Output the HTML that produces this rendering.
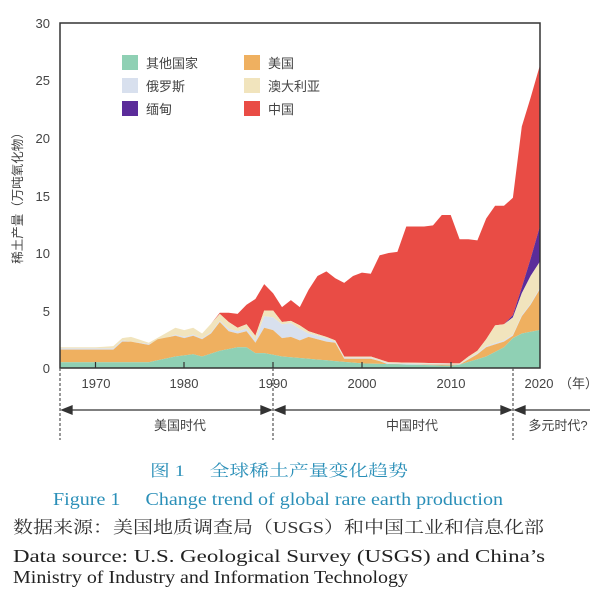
<!DOCTYPE html>
<html><head><meta charset="utf-8"><style>html,body{margin:0;padding:0;background:#fff;}svg{display:block}</style></head>
<body>
<svg id="s" width="600" height="603" viewBox="0 0 600 603" xmlns="http://www.w3.org/2000/svg">
<g id="areas"></g>
<rect x="60" y="23" width="480" height="345" fill="none" stroke="#333" stroke-width="1.5"/>
<g font-family="Liberation Sans, sans-serif" font-size="13" fill="#444" text-anchor="end">
<text x="50" y="373">0</text><text x="50" y="316">5</text><text x="50" y="258">10</text>
<text x="50" y="201">15</text><text x="50" y="143">20</text><text x="50" y="85">25</text><text x="50" y="28">30</text>
</g>
<g stroke="#333" stroke-width="1.2">
<line x1="95.5" y1="368" x2="95.5" y2="362"/><line x1="184" y1="368" x2="184" y2="362"/><line x1="273" y1="368" x2="273" y2="362"/><line x1="362" y1="368" x2="362" y2="362"/><line x1="451" y1="368" x2="451" y2="362"/>
</g>
<g font-family="Liberation Sans, sans-serif" font-size="13" fill="#444" text-anchor="middle">
<text x="96" y="388">1970</text><text x="184" y="388">1980</text><text x="273" y="388">1990</text><text x="362" y="388">2000</text><text x="451" y="388">2010</text><text x="539" y="388">2020</text>
</g>
<text x="559" y="388" font-family="Liberation Sans, 'Noto Sans CJK SC', sans-serif" font-size="13" fill="#444">（年）</text>
<text transform="translate(22,195) rotate(-90)" text-anchor="middle" font-family="Liberation Sans, 'Noto Sans CJK SC', sans-serif" font-size="12.5" fill="#444">稀土产量（万吨氧化物）</text>
<g stroke="#555" stroke-width="1.2" stroke-dasharray="3,2">
<line x1="60" y1="368" x2="60" y2="440"/><line x1="273" y1="368" x2="273" y2="440"/><line x1="513" y1="368" x2="513" y2="440"/>
</g>
<g stroke="#333" stroke-width="1.3" fill="#333">
<line x1="66" y1="410" x2="267" y2="410"/><polygon points="62,410 72,406 72,414"/><polygon points="271,410 261,406 261,414"/>
<line x1="279" y1="410" x2="507" y2="410"/><polygon points="275,410 285,406 285,414"/><polygon points="511,410 501,406 501,414"/>
<line x1="519" y1="410" x2="590" y2="410"/><polygon points="515,410 525,406 525,414"/>
</g>
<g font-family="Liberation Sans, 'Noto Sans CJK SC', sans-serif" font-size="13" fill="#444" text-anchor="middle">
<text x="180" y="430">美国时代</text><text x="412" y="430">中国时代</text><text x="558" y="430">多元时代?</text>
</g>
<g font-family="Liberation Sans, 'Noto Sans CJK SC', sans-serif" font-size="13" fill="#444">
<rect x="122" y="55" width="16" height="15" fill="#8fd0b4"/><text x="146" y="68">其他国家</text>
<rect x="122" y="78" width="16" height="15" fill="#d8e0ee"/><text x="146" y="91">俄罗斯</text>
<rect x="122" y="101" width="16" height="15" fill="#5b2c9a"/><text x="146" y="114">缅甸</text>
<rect x="244" y="55" width="16" height="15" fill="#efb060"/><text x="268" y="68">美国</text>
<rect x="244" y="78" width="16" height="15" fill="#f1e4bd"/><text x="268" y="91">澳大利亚</text>
<rect x="244" y="101" width="16" height="15" fill="#e94c45"/><text x="268" y="114">中国</text>
</g>
<g font-family="Liberation Serif, 'Noto Serif CJK SC', serif">
<text x="150" y="476" font-size="16" fill="#2a8fb8" textLength="258" lengthAdjust="spacingAndGlyphs">图 1　 全球稀土产量变化趋势</text>
<text x="53" y="505" font-size="18" fill="#2a8fb8" textLength="450" lengthAdjust="spacingAndGlyphs">Figure 1　 Change trend of global rare earth production</text>
<text x="13" y="533" font-size="17" fill="#333" textLength="531" lengthAdjust="spacingAndGlyphs">数据来源：美国地质调查局（USGS）和中国工业和信息化部</text>
<text x="13" y="562" font-size="18" fill="#222" textLength="532" lengthAdjust="spacingAndGlyphs">Data source: U.S. Geological Survey (USGS) and China’s</text>
<text x="13" y="583" font-size="18" fill="#222" textLength="395" lengthAdjust="spacingAndGlyphs">Ministry of Industry and Information Technology</text>
</g>
</svg>
<script>
(function(){
var yrs=[];for(var y=1966;y<=2020;y++)yrs.push(y);
function interp(pts){var o=[];for(var i=0;i<yrs.length;i++){var y=yrs[i];for(var j=0;j<pts.length-1;j++){if(y>=pts[j][0]&&y<=pts[j+1][0]){var t=(y-pts[j][0])/((pts[j+1][0]-pts[j][0])||1);o.push(pts[j][1]+t*(pts[j+1][1]-pts[j][1]));break;}}}return o;}
var teal=interp([[1966,0.5],[1976,0.5],[1979,1.0],[1981,1.2],[1982,1.0],[1984,1.5],[1986,1.8],[1987,1.8],[1988,1.3],[1989,1.3],[1991,1.0],[1994,0.8],[1997,0.6],[2000,0.4],[2005,0.3],[2010,0.2],[2011,0.3],[2014,1.0],[2016,1.8],[2017,2.6],[2018,3.0],[2020,3.3]]);
var usa=interp([[1966,1.6],[1972,1.6],[1973,2.3],[1974,2.3],[1976,2.0],[1977,2.5],[1979,2.8],[1980,2.6],[1981,2.8],[1982,2.5],[1983,3.0],[1984,4.0],[1985,3.2],[1986,3.0],[1987,3.2],[1988,2.2],[1989,3.5],[1990,3.3],[1991,2.6],[1992,2.7],[1993,2.4],[1994,2.7],[1995,2.5],[1996,2.3],[1997,2.2],[1998,0.8],[2001,0.8],[2002,0.6],[2003,0.3],[2011,0.3],[2013,1.2],[2014,1.8],[2016,2.3],[2017,2.8],[2018,4.5],[2019,5.5],[2020,6.8]]);
var rus=interp([[1966,1.7],[1972,1.7],[1973,2.4],[1976,2.1],[1979,2.9],[1980,2.7],[1981,2.9],[1982,2.6],[1983,3.1],[1984,4.1],[1985,3.4],[1986,3.2],[1987,3.4],[1988,2.4],[1989,4.5],[1990,4.4],[1991,3.8],[1992,3.9],[1993,3.4],[1994,3.0],[1996,2.6],[1997,2.3],[1998,0.9],[2001,0.9],[2003,0.4],[2011,0.35],[2013,1.3],[2014,1.9],[2016,2.4],[2017,2.9],[2018,4.6],[2019,5.6],[2020,6.9]]);
var aus=interp([[1966,1.8],[1970,1.8],[1972,1.9],[1973,2.6],[1974,2.7],[1976,2.2],[1979,3.5],[1980,3.3],[1981,3.5],[1982,3.0],[1984,4.7],[1985,4.0],[1986,3.5],[1987,3.8],[1988,2.8],[1989,5.0],[1990,5.0],[1991,4.0],[1992,4.1],[1993,3.7],[1994,3.2],[1996,2.7],[1997,2.4],[1998,1.0],[2001,1.0],[2003,0.5],[2010,0.4],[2011,0.4],[2012,1.0],[2013,1.5],[2014,2.5],[2015,3.7],[2016,3.8],[2017,4.4],[2018,6.5],[2019,8.0],[2020,9.2]]);
var mya=interp([[1966,0],[2016,0],[2017,0.2],[2018,0.5],[2019,1.5],[2020,3.0]]).map(function(v,i){return v+aus[i];});
var chn=interp([[1966,0],[1983,0],[1984,0.1],[2020,0.1]]);
var ctop={1984:4.8,1985:4.8,1986:4.7,1987:5.5,1988:6.0,1989:7.3,1990:6.5,1991:5.3,1992:5.9,1993:5.3,1994:6.8,1995:8.0,1996:8.4,1997:7.8,1998:7.4,1999:8.0,2000:8.3,2001:8.2,2002:9.8,2003:10.0,2004:10.1,2005:12.3,2006:12.3,2007:12.3,2008:12.4,2009:13.3,2010:13.3,2011:11.2,2012:11.2,2013:11.1,2014:13.0,2015:14.1,2016:14.1,2017:14.8,2018:21.0,2019:23.5,2020:26.2};
var tot=yrs.map(function(y,i){return ctop[y]!==undefined?ctop[y]:mya[i];});
function X(y){return 60+(y-1966)*8.88;}function Y(v){return 368-v*11.5;}
var layers=[[tot,mya,"#e94c45"],[mya,aus,"#5b2c9a"],[aus,rus,"#f1e4bd"],[rus,usa,"#d8e0ee"],[usa,teal,"#efb060"],[teal,null,"#8fd0b4"]];
var g=document.getElementById("areas"),h="";
layers.forEach(function(L){var p=[];for(var i=0;i<yrs.length;i++)p.push(X(yrs[i]).toFixed(1)+","+Y(L[0][i]).toFixed(1));for(var i=yrs.length-1;i>=0;i--)p.push(X(yrs[i]).toFixed(1)+","+(L[1]?Y(L[1][i]):368).toFixed(1));h+='<polygon points="'+p.join(" ")+'" fill="'+L[2]+'"/>';});
g.innerHTML=h;
})();
</script>
</body></html>
